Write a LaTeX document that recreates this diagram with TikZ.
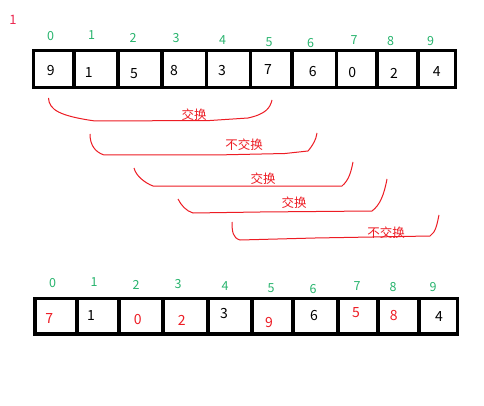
\documentclass[tikz,border=0pt]{standalone}
\usepackage{fontspec}
\setmainfont{Noto Sans CJK SC}
\begin{document}
\begin{tikzpicture}[x=1pt,y=-1pt,
  cell/.style={draw=black,line width=3.6pt},
  idx/.style={text=idxgreen,font=\fontsize{12.5}{12.5}\selectfont,inner sep=0pt},
  val/.style={text=black,font=\fontsize{14}{14}\selectfont,inner sep=0pt},
  rval/.style={text=myred,font=\fontsize{14}{14}\selectfont,inner sep=0pt},
  lbl/.style={text=myred,font=\fontsize{12.5}{12.5}\selectfont,inner sep=0pt},
  brace/.style={draw=myred,line width=1pt}]
\definecolor{idxgreen}{RGB}{40,180,110}
\definecolor{myred}{RGB}{237,28,36}
\definecolor{pinkred}{RGB}{236,40,80}
\useasboundingbox (0,0) rectangle (484,406);
\fill[white] (0,0) rectangle (484,406);
\node[text=pinkred,font=\fontsize{13}{13}\selectfont,inner sep=0pt] (step1) at (13,20) {1};
% top array
\draw[cell] (33.5,50.5) rectangle (455.5,87.5);
\foreach \x in {74,118,162,206.5,250.5,292,336.5,377,418}
  \draw[cell] (\x,50.5) -- (\x,87.5);
\foreach \i/\x/\y in {0/50.7/36,1/91.7/35,2/133/38,3/176/38,4/222.7/40,5/269/42,6/310.7/43,7/354/40,8/390.7/41,9/430.7/41}
  \node[idx] (ti\i) at (\x,\y) {\i};
\foreach \i/\v/\x/\y in {0/9/50.7/71,1/1/88.7/73,2/5/134/74,3/8/174/71,4/3/222/71,5/7/268/70,6/6/312.7/72,7/0/352.3/73,8/2/394/73,9/4/436.7/72}
  \node[val] (tv\i) at (\x,\y) {\v};
% braces
\draw[brace] (48.5,98) .. controls (49,110) and (60,116) .. (95,121) -- (210,120.5) -- (248,118) .. controls (266,114) and (270,108) .. (272,100);
\node[lbl] (l1) at (194,115) {交换};
\draw[brace] (90,134) .. controls (90,145) and (95,152) .. (104,155) -- (215,155) -- (285,153.5) -- (308,151) .. controls (313,145) and (316,140) .. (317,133);
\node[lbl] (l2) at (244,145) {不交换};
\draw[brace] (134,168) .. controls (136,176) and (145,183) .. (153,186) -- (220,186) -- (342,186) .. controls (349,180) and (351,172) .. (353,162);
\node[lbl] (l3) at (263,178.5) {交换};
\draw[brace] (178,199) .. controls (181,205) and (186,211) .. (193,213) -- (260,212) -- (372,211) .. controls (380,205) and (384,195) .. (387,179);
\node[lbl] (l4) at (294,203) {交换};
\draw[brace] (232,222) .. controls (232,232) and (233,238) .. (240,240) -- (315,238) -- (430,236) .. controls (436,232) and (437,224) .. (439,215);
\node[lbl] (l5) at (386,233) {不交换};
% bottom array
\draw[cell] (35,298.5) rectangle (457.5,334);
\foreach \x in {77,119,163,208,252,293,338,378,419}
  \draw[cell] (\x,298.5) -- (\x,334);
\foreach \i/\x/\y in {0/52.7/283,1/94/282,2/136/285,3/178/284,4/225/286,5/271/288,6/313/289,7/357/286,8/393/287,9/433/287}
  \node[idx] (bi\i) at (\x,\y) {\i};
\node[rval] (bv0) at (49.3,319) {7};
\node[val]  (bv1) at (91,316) {1};
\node[rval] (bv2) at (137.7,320) {0};
\node[rval] (bv3) at (181.7,320) {2};
\node[val]  (bv4) at (224,314) {3};
\node[rval] (bv5) at (269,323) {9};
\node[val]  (bv6) at (314,316) {6};
\node[rval] (bv7) at (356,313) {5};
\node[rval] (bv8) at (393.7,316) {8};
\node[val]  (bv9) at (439,317) {4};
\end{tikzpicture}
\end{document}
